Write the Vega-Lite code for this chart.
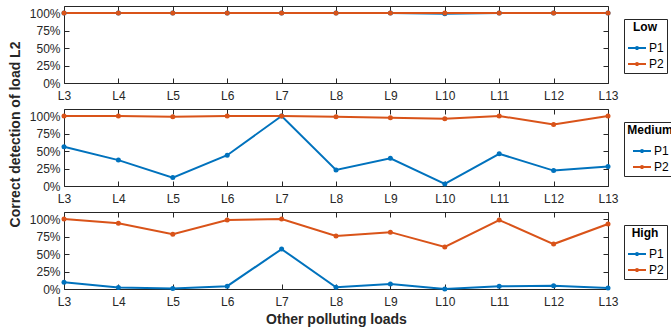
{
  "$schema": "https://vega.github.io/schema/vega-lite/v6.json",
  "padding": {"left": 7, "top": 5, "right": 0, "bottom": 5},
  "background": "white",
  "config": {
    "font": "Liberation Sans",
    "view": {"stroke": "#262626", "strokeWidth": 1},
    "axis": {"grid": false, "domain": false, "labelFont": "Liberation Sans", "labelFontSize": 12, "labelColor": "#262626", "tickColor": "#262626", "tickSize": -5, "titleFont": "Liberation Sans", "titleFontSize": 14, "titleFontWeight": "bold", "titleColor": "#262626"},
    "legend": {"strokeColor": "#262626", "fillColor": "white", "padding": 3, "titleFontSize": 12, "titleFontWeight": "bold", "titleColor": "black", "titleAnchor": "middle", "titlePadding": 4, "labelFontSize": 12, "labelColor": "black", "labelOffset": 2, "rowPadding": 0, "symbolSize": 324, "symbolStrokeWidth": 2}
  },
  "datasets": {
    "d": [
      {"level": "Low", "load": "L3", "series": "P1", "value": 1.0},
      {"level": "Low", "load": "L4", "series": "P1", "value": 1.0},
      {"level": "Low", "load": "L5", "series": "P1", "value": 1.0},
      {"level": "Low", "load": "L6", "series": "P1", "value": 1.0},
      {"level": "Low", "load": "L7", "series": "P1", "value": 1.0},
      {"level": "Low", "load": "L8", "series": "P1", "value": 1.0},
      {"level": "Low", "load": "L9", "series": "P1", "value": 1.0},
      {"level": "Low", "load": "L10", "series": "P1", "value": 0.99},
      {"level": "Low", "load": "L11", "series": "P1", "value": 1.0},
      {"level": "Low", "load": "L12", "series": "P1", "value": 1.0},
      {"level": "Low", "load": "L13", "series": "P1", "value": 1.0},
      {"level": "Low", "load": "L3", "series": "P2", "value": 1.0},
      {"level": "Low", "load": "L4", "series": "P2", "value": 1.0},
      {"level": "Low", "load": "L5", "series": "P2", "value": 1.0},
      {"level": "Low", "load": "L6", "series": "P2", "value": 1.0},
      {"level": "Low", "load": "L7", "series": "P2", "value": 1.0},
      {"level": "Low", "load": "L8", "series": "P2", "value": 1.0},
      {"level": "Low", "load": "L9", "series": "P2", "value": 1.0},
      {"level": "Low", "load": "L10", "series": "P2", "value": 1.0},
      {"level": "Low", "load": "L11", "series": "P2", "value": 1.0},
      {"level": "Low", "load": "L12", "series": "P2", "value": 1.0},
      {"level": "Low", "load": "L13", "series": "P2", "value": 1.0},
      {"level": "Medium", "load": "L3", "series": "P1", "value": 0.56},
      {"level": "Medium", "load": "L4", "series": "P1", "value": 0.37},
      {"level": "Medium", "load": "L5", "series": "P1", "value": 0.12},
      {"level": "Medium", "load": "L6", "series": "P1", "value": 0.44},
      {"level": "Medium", "load": "L7", "series": "P1", "value": 1.0},
      {"level": "Medium", "load": "L8", "series": "P1", "value": 0.23},
      {"level": "Medium", "load": "L9", "series": "P1", "value": 0.395},
      {"level": "Medium", "load": "L10", "series": "P1", "value": 0.03},
      {"level": "Medium", "load": "L11", "series": "P1", "value": 0.46},
      {"level": "Medium", "load": "L12", "series": "P1", "value": 0.22},
      {"level": "Medium", "load": "L13", "series": "P1", "value": 0.28},
      {"level": "Medium", "load": "L3", "series": "P2", "value": 1.0},
      {"level": "Medium", "load": "L4", "series": "P2", "value": 1.0},
      {"level": "Medium", "load": "L5", "series": "P2", "value": 0.99},
      {"level": "Medium", "load": "L6", "series": "P2", "value": 1.0},
      {"level": "Medium", "load": "L7", "series": "P2", "value": 1.0},
      {"level": "Medium", "load": "L8", "series": "P2", "value": 0.99},
      {"level": "Medium", "load": "L9", "series": "P2", "value": 0.975},
      {"level": "Medium", "load": "L10", "series": "P2", "value": 0.96},
      {"level": "Medium", "load": "L11", "series": "P2", "value": 1.0},
      {"level": "Medium", "load": "L12", "series": "P2", "value": 0.88},
      {"level": "Medium", "load": "L13", "series": "P2", "value": 1.0},
      {"level": "High", "load": "L3", "series": "P1", "value": 0.095},
      {"level": "High", "load": "L4", "series": "P1", "value": 0.02},
      {"level": "High", "load": "L5", "series": "P1", "value": 0.006},
      {"level": "High", "load": "L6", "series": "P1", "value": 0.04},
      {"level": "High", "load": "L7", "series": "P1", "value": 0.57},
      {"level": "High", "load": "L8", "series": "P1", "value": 0.025},
      {"level": "High", "load": "L9", "series": "P1", "value": 0.07},
      {"level": "High", "load": "L10", "series": "P1", "value": 0.0},
      {"level": "High", "load": "L11", "series": "P1", "value": 0.04},
      {"level": "High", "load": "L12", "series": "P1", "value": 0.045},
      {"level": "High", "load": "L13", "series": "P1", "value": 0.015},
      {"level": "High", "load": "L3", "series": "P2", "value": 1.0},
      {"level": "High", "load": "L4", "series": "P2", "value": 0.938},
      {"level": "High", "load": "L5", "series": "P2", "value": 0.783},
      {"level": "High", "load": "L6", "series": "P2", "value": 0.986},
      {"level": "High", "load": "L7", "series": "P2", "value": 1.0},
      {"level": "High", "load": "L8", "series": "P2", "value": 0.758},
      {"level": "High", "load": "L9", "series": "P2", "value": 0.812},
      {"level": "High", "load": "L10", "series": "P2", "value": 0.60},
      {"level": "High", "load": "L11", "series": "P2", "value": 0.986},
      {"level": "High", "load": "L12", "series": "P2", "value": 0.642},
      {"level": "High", "load": "L13", "series": "P2", "value": 0.928}
    ]
  },
  "vconcat": [
    {
      "width": 544, "height": 77,
      "data": {"name": "d"},
      "transform": [{"filter": "datum.level === 'Low'"}],
      "layer": [
        {
          "mark": {"type": "line", "strokeWidth": 2, "point": {"filled": true, "size": 25}},
          "encoding": {
            "x": {"field": "load", "type": "ordinal", "sort": ["L3","L4","L5","L6","L7","L8","L9","L10","L11","L12","L13"], "scale": {"type": "point", "padding": 0}, "axis": {"orient": "bottom", "labelAngle": 0, "labelPadding": 12, "title": null}},
            "y": {"field": "value", "type": "quantitative", "scale": {"domain": [0, 1.1], "nice": false}, "axis": {"orient": "left", "values": [0, 0.25, 0.5, 0.75, 1], "format": ".0%", "labelPadding": 9, "title": null}},
            "color": {"field": "series", "type": "nominal", "scale": {"domain": ["P1", "P2"], "range": ["#0072BD", "#D95319"]}, "title": "Low", "legend": {"orient": "none", "legendX": 560, "legendY": 13, "symbolType": "M-1,0H1M-0.12,0A0.12,0.12 0 1 0 0.12,0A0.12,0.12 0 1 0 -0.12,0"}}
          }
        },
        {
          "mark": {"type": "line", "opacity": 0},
          "encoding": {
            "x": {"field": "load", "type": "ordinal", "sort": ["L3","L4","L5","L6","L7","L8","L9","L10","L11","L12","L13"], "scale": {"type": "point", "padding": 0}, "axis": {"orient": "top", "labels": false, "title": null}},
            "y": {"field": "value", "type": "quantitative", "axis": {"orient": "right", "labels": false, "values": [0, 0.25, 0.5, 0.75, 1], "title": null}},
            "detail": {"field": "series"}
          }
        }
      ],
      "resolve": {"axis": {"x": "independent", "y": "independent"}}
    },
    {
      "width": 544, "height": 77,
      "data": {"name": "d"},
      "transform": [{"filter": "datum.level === 'Medium'"}],
      "layer": [
        {
          "mark": {"type": "line", "strokeWidth": 2, "point": {"filled": true, "size": 25}},
          "encoding": {
            "x": {"field": "load", "type": "ordinal", "sort": ["L3","L4","L5","L6","L7","L8","L9","L10","L11","L12","L13"], "scale": {"type": "point", "padding": 0}, "axis": {"orient": "bottom", "labelAngle": 0, "labelPadding": 12, "title": null}},
            "y": {"field": "value", "type": "quantitative", "scale": {"domain": [0, 1.1], "nice": false}, "axis": {"orient": "left", "values": [0, 0.25, 0.5, 0.75, 1], "format": ".0%", "labelPadding": 9, "title": "Correct detection of load L2", "titleY": 25, "titlePadding": 7}},
            "color": {"field": "series", "type": "nominal", "scale": {"domain": ["P1", "P2"], "range": ["#0072BD", "#D95319"]}, "title": "Medium", "legend": {"orient": "none", "legendX": 560, "legendY": 13, "symbolType": "M-1,0H1M-0.12,0A0.12,0.12 0 1 0 0.12,0A0.12,0.12 0 1 0 -0.12,0"}}
          }
        },
        {
          "mark": {"type": "line", "opacity": 0},
          "encoding": {
            "x": {"field": "load", "type": "ordinal", "sort": ["L3","L4","L5","L6","L7","L8","L9","L10","L11","L12","L13"], "scale": {"type": "point", "padding": 0}, "axis": {"orient": "top", "labels": false, "title": null}},
            "y": {"field": "value", "type": "quantitative", "axis": {"orient": "right", "labels": false, "values": [0, 0.25, 0.5, 0.75, 1], "title": null}},
            "detail": {"field": "series"}
          }
        }
      ],
      "resolve": {"axis": {"x": "independent", "y": "independent"}}
    },
    {
      "width": 544, "height": 77,
      "data": {"name": "d"},
      "transform": [{"filter": "datum.level === 'High'"}],
      "layer": [
        {
          "mark": {"type": "line", "strokeWidth": 2, "point": {"filled": true, "size": 25}},
          "encoding": {
            "x": {"field": "load", "type": "ordinal", "sort": ["L3","L4","L5","L6","L7","L8","L9","L10","L11","L12","L13"], "scale": {"type": "point", "padding": 0}, "axis": {"orient": "bottom", "labelAngle": 0, "labelPadding": 12, "title": "Other polluting loads", "titlePadding": 5}},
            "y": {"field": "value", "type": "quantitative", "scale": {"domain": [0, 1.1], "nice": false}, "axis": {"orient": "left", "values": [0, 0.25, 0.5, 0.75, 1], "format": ".0%", "labelPadding": 9, "title": null}},
            "color": {"field": "series", "type": "nominal", "scale": {"domain": ["P1", "P2"], "range": ["#0072BD", "#D95319"]}, "title": "High", "legend": {"orient": "none", "legendX": 560, "legendY": 13, "symbolType": "M-1,0H1M-0.12,0A0.12,0.12 0 1 0 0.12,0A0.12,0.12 0 1 0 -0.12,0"}}
          }
        },
        {
          "mark": {"type": "line", "opacity": 0},
          "encoding": {
            "x": {"field": "load", "type": "ordinal", "sort": ["L3","L4","L5","L6","L7","L8","L9","L10","L11","L12","L13"], "scale": {"type": "point", "padding": 0}, "axis": {"orient": "top", "labels": false, "title": null}},
            "y": {"field": "value", "type": "quantitative", "axis": {"orient": "right", "labels": false, "values": [0, 0.25, 0.5, 0.75, 1], "title": null}},
            "detail": {"field": "series"}
          }
        }
      ],
      "resolve": {"axis": {"x": "independent", "y": "independent"}}
    }
  ],
  "spacing": 26,
  "bounds": "flush",
  "resolve": {"scale": {"color": "independent"}, "legend": {"color": "independent"}}
}
